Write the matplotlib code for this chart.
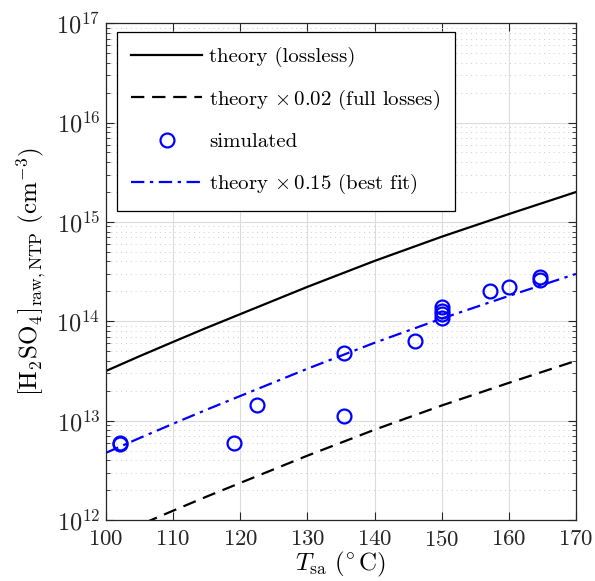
import numpy as np
import matplotlib
matplotlib.use('Agg')
import matplotlib.pyplot as plt
from matplotlib.ticker import LogLocator, NullFormatter

plt.rcParams['font.family'] = 'cmr10'
plt.rcParams['mathtext.fontset'] = 'cm'
plt.rcParams['axes.formatter.use_mathtext'] = True

# theory (lossless)
t_theory = [100, 105, 110, 115, 120, 130, 140, 150, 160, 170]
n_theory = [3.16e13, 4.45e13, 6.2e13, 8.6e13, 1.18e14, 2.22e14, 4.05e14,
            7.1e14, 1.2e15, 2.0e15]

# scale factors from the legend
f_loss = 0.02
f_fit = 0.15

# simulated points
t_sim = [102.1, 102.1, 119.1, 122.5, 135.5, 135.5, 146.0, 150, 150, 150, 150,
         157.2, 160.0, 164.6, 164.6]
n_sim = [6.0e12, 5.8e12, 5.9e12, 1.45e13, 4.8e13, 1.12e13, 6.3e13,
         1.08e14, 1.18e14, 1.28e14, 1.38e14, 2.0e14, 2.2e14, 2.6e14, 2.8e14]

t = np.array(t_theory)
n = np.array(n_theory)

fig = plt.figure(figsize=(5.95, 5.81), dpi=100)
ax = fig.add_axes([0.178, 0.105, 0.79, 0.855])

ax.semilogy(t, n, 'k-', lw=1.6, label='theory (lossless)')
ax.semilogy(t, n * f_loss, 'k--', lw=1.6, dashes=(6, 3.5),
            label=r'theory $\times\,0.02$ (full losses)')
ax.semilogy(t_sim, n_sim, 'o', ms=10, mfc='none', mec='b', mew=1.6,
            ls='none', label='simulated')
ax.semilogy(t, n * f_fit, 'b-.', lw=1.6, dashes=(6, 2.5, 1.5, 2.5),
            label=r'theory $\times\,0.15$ (best fit)')

ax.set_xlim(100, 170)
ax.set_ylim(1e12, 1e17)
ax.set_xticks(range(100, 171, 10))
ax.yaxis.set_major_locator(LogLocator(base=10, numticks=10))
ax.yaxis.set_minor_locator(LogLocator(base=10, subs=np.arange(2, 10), numticks=20))
ax.yaxis.set_minor_formatter(NullFormatter())

ax.grid(True, which='major', color='0.86', lw=0.8)
ax.grid(True, which='minor', axis='y', color='0.8', ls=(0, (1, 4)), lw=0.7)
ax.set_axisbelow(True)

ax.tick_params(which='both', direction='in', top=True, right=True,
               colors='0.15')
ax.tick_params(axis='x', labelsize=16.5, pad=7)
ax.tick_params(axis='y', labelsize=17.5, pad=4)
ax.tick_params(which='major', length=6, width=0.8)
ax.tick_params(which='minor', length=3, width=0.6)
for s in ax.spines.values():
    s.set_linewidth(0.9)
    s.set_color('0.15')

ax.set_xlabel(r'$T_\mathrm{sa}\ (^{\!\circ}\mathrm{C})$', fontsize=18, labelpad=0)
ax.set_ylabel(r'$[\mathrm{H_2SO_4}]_\mathrm{raw,NTP}\ (\mathrm{cm^{-3}})$',
              fontsize=18, labelpad=6)

leg = ax.legend(loc='upper left', bbox_to_anchor=(0.023, 0.982), fontsize=15,
                handlelength=3.4, handletextpad=0.35, labelspacing=1.0,
                borderpad=0.7, fancybox=False, framealpha=1, edgecolor='k',
                borderaxespad=0)
leg.get_frame().set_linewidth(0.9)

fig.savefig('out.png', dpi=100)
